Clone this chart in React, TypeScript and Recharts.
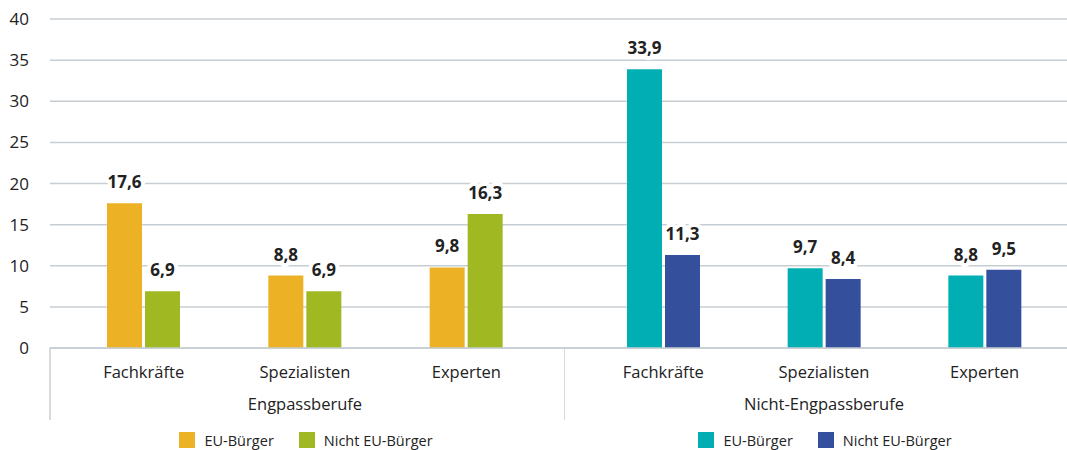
import React from 'react'
import {
  BarChart, Bar, XAxis, YAxis, CartesianGrid, Legend, LabelList, usePlotArea
} from 'recharts'

// Werte aus der Vorlage (Anteile in %)
const categories = ['Fachkräfte', 'Spezialisten', 'Experten']
const groups = ['Engpassberufe', 'Nicht-Engpassberufe']
const seriesNames = ['EU-Bürger', 'Nicht EU-Bürger']
const engpassEU = [17.6, 8.8, 9.8]
const engpassNonEU = [6.9, 6.9, 16.3]
const nichtEngpassEU = [33.9, 9.7, 8.8]
const nichtEngpassNonEU = [11.3, 8.4, 9.5]
const yTicks = [0, 5, 10, 15, 20, 25, 30, 35, 40]

const GRID = '#c6ced3'
const TEXT = '#222'
const FONT = '"Open Sans", "Noto Sans", sans-serif'

const toRows = (eu: number[], nonEu: number[]) =>
  categories.map((c, i) => ({ cat: c, eu: eu[i], nonEu: nonEu[i] }))

const fmt = (v: number) => String(v).replace('.', ',')

function ValueLabel(props: any) {
  const { x, y, width, value } = props
  return (
    <text
      x={Number(x) + Number(width) / 2}
      y={Number(y) - 15}
      textAnchor="middle"
      fontSize={17}
      fontWeight={700}
      fill={TEXT}
      stroke="#fff"
      strokeWidth={8}
      strokeLinejoin="round"
      style={{ paintOrder: 'stroke' }}
    >
      {fmt(value)}
    </text>
  )
}

function makeTick(group: string) {
  return (props: any) => {
    const { x, y, payload, index } = props
    return (
      <g>
        <text x={x} y={y + 30} textAnchor="middle" fontSize={16.5} fill={TEXT}>
          {payload.value}
        </text>
        {index === 1 && (
          <text x={x} y={y + 62} textAnchor="middle" fontSize={16.5} fill={TEXT}>
            {group}
          </text>
        )}
      </g>
    )
  }
}

// senkrechte Trennlinie unter der x-Achse
function Divider() {
  const area = usePlotArea()
  if (!area) return null
  const bottom = area.y + area.height
  return <line x1={area.x} x2={area.x} y1={bottom} y2={bottom + 72} stroke={GRID} strokeWidth={1.5} />
}

function makeLegend(colors: string[]) {
  return () => (
    <div style={{ display: 'flex', justifyContent: 'center', height: 20, alignItems: 'center', fontSize: 14.5, color: TEXT }}>
      {seriesNames.map((n, i) => (
        <div key={n} style={{ display: 'flex', alignItems: 'center', marginRight: i === 0 ? 25 : 0 }}>
          <span style={{ width: 16, height: 16, background: colors[i], display: 'inline-block', marginRight: 9 }} />
          <span>{n}</span>
        </div>
      ))}
    </div>
  )
}

interface PanelProps {
  group: string
  rows: { cat: string; eu: number; nonEu: number }[]
  colors: string[]
  width: number
  showY: boolean
  padding: { left: number; right: number }
  legendBox: { left: number; width: number }
}

function Panel({ group, rows, colors, width, showY, padding, legendBox }: PanelProps) {
  return (
    <BarChart
      width={width}
      height={450}
      data={rows}
      margin={{ top: 19, right: 0, left: 0, bottom: 0 }}
      barSize={35}
      barGap={3}
    >
      <CartesianGrid horizontal vertical={false} stroke={GRID} strokeWidth={1.5} />
      <XAxis
        dataKey="cat"
        height={82}
        padding={padding}
        axisLine={{ stroke: GRID, strokeWidth: 1.5 }}
        tickLine={false}
        tickSize={0}
        tickMargin={0}
        interval={0}
        tick={makeTick(group)}
      />
      <YAxis
        hide={!showY}
        width={showY ? 50 : 0}
        domain={[0, 40]}
        ticks={yTicks}
        axisLine={false}
        tickLine={false}
        tickSize={0}
        tickMargin={21}
        tick={{ fill: TEXT, fontSize: 17 }}
      />
      <Legend verticalAlign="bottom" content={makeLegend(colors)} wrapperStyle={legendBox} />
      <Bar dataKey="eu" name={seriesNames[0]} fill={colors[0]} isAnimationActive={false}>
        <LabelList dataKey="eu" content={ValueLabel} />
      </Bar>
      <Bar dataKey="nonEu" name={seriesNames[1]} fill={colors[1]} isAnimationActive={false}>
        <LabelList dataKey="nonEu" content={ValueLabel} />
      </Bar>
      <Divider />
    </BarChart>
  )
}

export default function App() {
  return (
    <div style={{ position: 'absolute', left: 0, top: 0, width: 1067, height: 450, display: 'flex', fontFamily: FONT, background: '#fff' }}>
      <Panel
        group={groups[0]}
        rows={toRows(engpassEU, engpassNonEU)}
        colors={['#ecb125', '#a0b822']}
        width={564}
        showY
        padding={{ left: 13, right: 17 }}
        legendBox={{ left: 50, width: 512 }}
      />
      <Panel
        group={groups[1]}
        rows={toRows(nichtEngpassEU, nichtEngpassNonEU)}
        colors={['#00aeb3', '#34509c']}
        width={503}
        showY={false}
        padding={{ left: 19, right: 2 }}
        legendBox={{ left: 19, width: 484 }}
      />
    </div>
  )
}
